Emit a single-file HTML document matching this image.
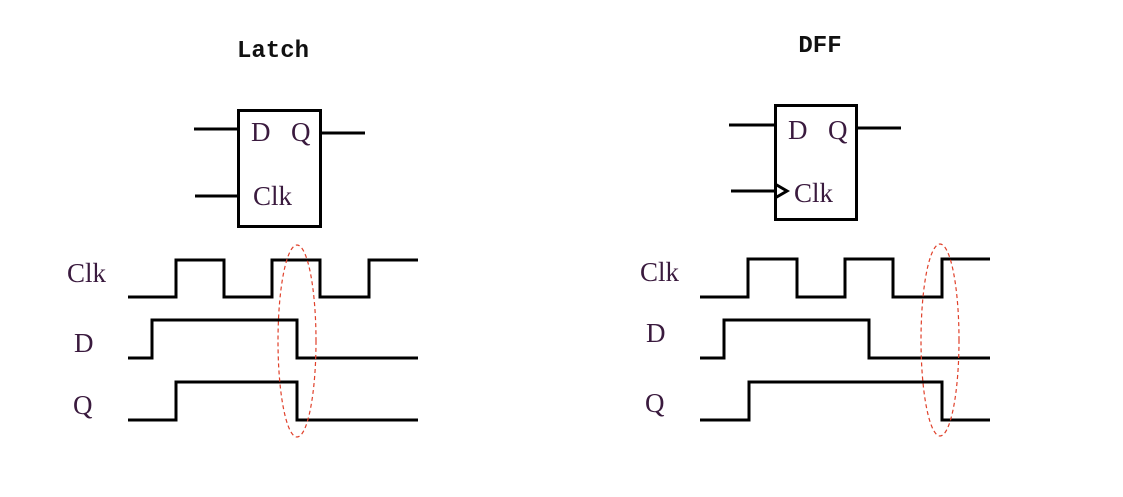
<!DOCTYPE html>
<html><head><style>body{margin:0;background:#fff}svg{display:block}</style></head><body>
<svg width="1123" height="497" viewBox="0 0 1123 497" xmlns="http://www.w3.org/2000/svg">
<g font-family="Liberation Mono, monospace" font-weight="bold" font-size="24" fill="#111" text-anchor="middle">
<text x="273" y="57">Latch</text>
<text x="820" y="52">DFF</text>
</g>
<g fill="none" stroke="#000" stroke-width="3">
<rect x="238.5" y="110.5" width="82" height="116"/>
<line x1="194" y1="129" x2="238" y2="129"/>
<line x1="320" y1="133" x2="365" y2="133"/>
<line x1="195" y1="196" x2="238" y2="196"/>
<polyline points="128,297 176,297 176,260 224,260 224,297 272,297 272,260 320,260 320,297 369,297 369,260 418,260"/>
<polyline points="128,358 152,358 152,320 297,320 297,358 418,358"/>
<polyline points="128,420 176,420 176,382 297,382 297,420 418,420"/>
<rect x="775.5" y="105.5" width="81" height="114"/>
<line x1="729" y1="125" x2="775" y2="125"/>
<line x1="856" y1="128" x2="901" y2="128"/>
<line x1="731" y1="191" x2="775" y2="191"/>
<polyline points="775,184 787,191 775,198"/>
<polyline points="700,297 748,297 748,259 797,259 797,297 845,297 845,259 893,259 893,297 942,297 942,259 990,259"/>
<polyline points="700,358 724,358 724,320 869,320 869,358 990,358"/>
<polyline points="700,420 749,420 749,382 942,382 942,420 990,420"/>
</g>
<g fill="none" stroke="#e0402a" stroke-width="1.2" stroke-dasharray="4,3">
<ellipse cx="297" cy="341" rx="19" ry="96"/>
<ellipse cx="940" cy="340" rx="19" ry="96"/>
</g>
<g font-family="Liberation Serif, serif" font-size="27" fill="#3a1a3e">
<text x="251" y="141">D</text><text x="291" y="141">Q</text><text x="253" y="205">Clk</text>
<text x="788" y="139">D</text><text x="828" y="139">Q</text><text x="794" y="202">Clk</text>
<text x="67" y="282">Clk</text><text x="74" y="352">D</text><text x="73" y="414">Q</text>
<text x="640" y="281">Clk</text><text x="646" y="342">D</text><text x="645" y="412">Q</text>
</g>
</svg>
</body></html>
